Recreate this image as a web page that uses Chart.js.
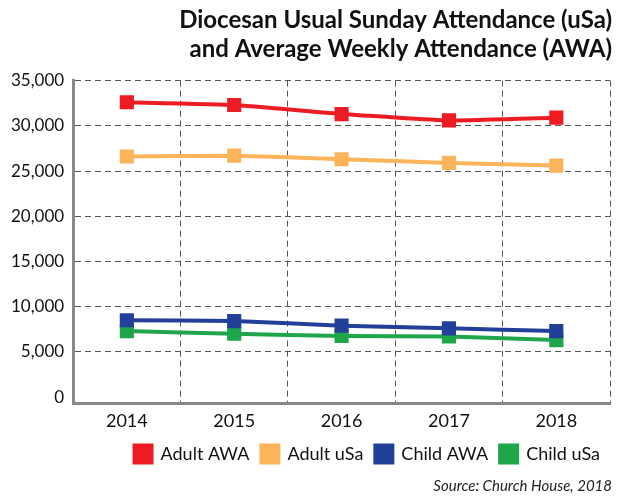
<!DOCTYPE html>
<html>
<head>
<meta charset="utf-8">
<script src="https://cdn.jsdelivr.net/npm/chart.js@4"></script>
<style>
  html,body{margin:0;padding:0;background:#fff;}
  #wrap{width:620px;height:497px;position:relative;}
</style>
</head>
<body>
<div id="wrap"><canvas id="c"></canvas></div>
<script>
const years=['2014','2015','2016','2017','2018'];
const adultAWA=[32600,32300,31300,30600,30900];
const adultUSA=[26600,26700,26300,25900,25600];
const childAWA=[8500,8400,7900,7600,7300];
const childUSA=[7300,7000,6750,6700,6300];
const yTicks=[0,5000,10000,15000,20000,25000,30000,35000];

const FONT='Lato, "Open Sans", sans-serif';

function ds(label,data,c){
  return {label,data,borderColor:c,backgroundColor:c,borderWidth:4,
    pointStyle:'rect',pointRadius:10,pointHoverRadius:10,pointBorderWidth:0,tension:0.12};
}

new Chart(document.getElementById('c'),{
  type:'line',
  data:{labels:years,datasets:[
    ds('Adult AWA',adultAWA,'#ED1C24'),
    ds('Adult uSa',adultUSA,'#FBB45A'),
    ds('Child AWA',childAWA,'#22409A'),
    ds('Child uSa',childUSA,'#1FA64A')
  ]},
  options:{
    responsive:true,maintainAspectRatio:false,animation:false,
    layout:{padding:{left:2,right:8,top:6,bottom:2}},
    plugins:{
      title:{display:true,align:'end',text:['Diocesan Usual Sunday Attendance (uSa)','and Average Weekly Attendance (AWA)'],
        color:'#111',font:{family:FONT,size:24,weight:'bold',lineHeight:1.2},padding:{top:0,bottom:17}},
      subtitle:{display:true,position:'bottom',align:'end',text:'Source: Church House, 2018',
        color:'#222',font:{family:FONT,size:15,style:'italic'},padding:{top:4,bottom:0}},
      legend:{position:'bottom',align:'end',
        labels:{boxWidth:17,boxHeight:17,color:'#111',padding:12,font:{family:FONT,size:18}}},
      tooltip:{enabled:false}
    },
    scales:{
      x:{offset:true,
        afterFit:s=>{s.height-=6;},
        grid:{offset:true,color:'#555',lineWidth:1,drawTicks:false},
        border:{display:true,color:'#888',width:3,dash:[6,4]},
        ticks:{color:'#111',padding:7,font:{family:FONT,size:18}}},
      y:{min:-700,max:35000,
        afterBuildTicks:a=>{a.ticks=yTicks.map(v=>({value:v}));},
        grid:{color:c=>c.tick&&c.tick.value===0?'rgba(0,0,0,0)':'#555',lineWidth:1,drawTicks:false},
        border:{display:true,color:'#888',width:3,dash:[6,4]},
        ticks:{color:'#111',padding:9,font:{family:FONT,size:17}}}
    }
  }
});
</script>
</body>
</html>
